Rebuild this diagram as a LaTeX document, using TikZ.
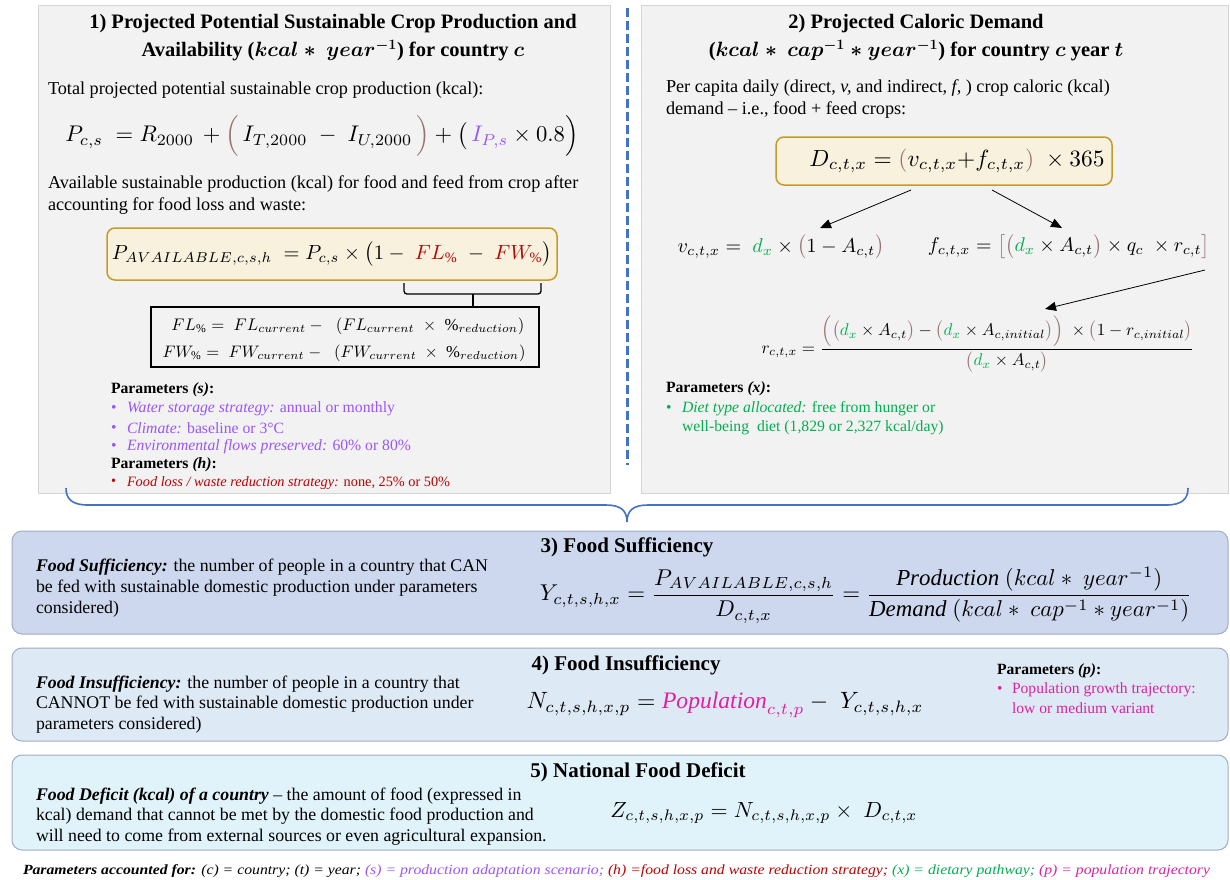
\documentclass[tikz,border=0pt]{standalone}
\usepackage{amsmath}
\usepackage{graphicx}
\usepackage{fontspec}
\setmainfont{Liberation Serif}
\usetikzlibrary{arrows.meta}
\definecolor{pgray}{RGB}{242,242,242}
\definecolor{pborder}{RGB}{212,212,212}
\definecolor{myblue}{RGB}{68,114,196}
\definecolor{mypurple}{RGB}{153,85,255}
\definecolor{myred}{RGB}{192,0,0}
\definecolor{mygreen}{RGB}{0,176,80}
\definecolor{mypink}{RGB}{224,32,160}
\definecolor{mybrown}{RGB}{150,115,115}
\definecolor{yfill}{RGB}{248,241,222}
\definecolor{ydraw}{RGB}{196,156,40}
\definecolor{pthreefill}{RGB}{205,216,238}
\definecolor{pfourfill}{RGB}{222,233,246}
\definecolor{pfivefill}{RGB}{224,243,251}
\definecolor{pbd}{RGB}{160,172,192}
\newcommand{\bul}[1]{\makebox[#1][l]{\raisebox{0.5pt}{\textbullet}}}
\begin{document}
\begin{tikzpicture}[x=1pt,y=-1pt,
  every node/.style={inner sep=0pt,outer sep=0pt},
  graypanel/.style={draw=pborder,fill=pgray,line width=0.8pt,anchor=north west},
  bluepanel/.style={draw=pbd,line width=1pt,rounded corners=10pt,anchor=north west,minimum width=1216},
  ybox/.style={draw=ydraw,fill=yfill,rounded corners=8pt,line width=1.5pt},
  ttl/.style={font=\fontsize{20.5}{28}\selectfont\bfseries,align=center},
  ttlb/.style={font=\fontsize{21}{24}\selectfont\bfseries},
  body/.style={font=\fontsize{18.2}{22}\selectfont,anchor=west},
  bodyb/.style={font=\fontsize{17.8}{21}\selectfont,anchor=west},
  param/.style={font=\fontsize{15.7}{19}\selectfont,anchor=west},
  params/.style={font=\fontsize{14.3}{17}\selectfont,anchor=west},
  paramp/.style={font=\fontsize{15.6}{18}\selectfont,anchor=west},
  arr/.style={line width=0.8pt,-{Triangle[length=11pt,width=9pt]}}
]
\useasboundingbox (0,0) rectangle (1230,879);
\fill[white] (0,0) rectangle (1230,879);

% ---------- top panels ----------
\node[graypanel,minimum width=572,minimum height=488] (p1) at (38,5) {};
\node[graypanel,minimum width=587,minimum height=488] (p2) at (641,5) {};

\coordinate (dtop) at (627,8);
\coordinate (dbot) at (627,465);
\draw[myblue,line width=3pt,dash pattern=on 9pt off 4pt] (dtop) -- (dbot);

% blue brace
\coordinate (bl) at (66,488);
\coordinate (bm) at (627,522);
\coordinate (br) at (1188,488);
\draw[myblue,line width=1.6pt] (bl) .. controls (66,499) and (72,505) .. (88,505) -- (606,505)
  .. controls (620,505) and (627,510) .. (bm) .. controls (627,510) and (634,505) .. (648,505)
  -- (1166,505) .. controls (1182,505) and (1188,499) .. (br);

% ---------- panel 1 ----------
\node[ttl] (t1) at (333,38) {1) Projected Potential Sustainable Crop Production and\\Availability ({\boldmath$kcal\ast\ year^{-1}$}) for country {\boldmath$c$}};
\node[body] (tx1) at (48,90) {Total projected potential sustainable crop production (kcal):};
\node (eqP) at (322,136) {\resizebox{513pt}{!}{$P_{c,s}\;=R_{2000}\,+\smash{\textcolor{mybrown}{\Bigl(}}\,I_{T,2000}\;-\;I_{U,2000}\,\smash{\textcolor{mybrown}{\Bigr)}}+\bigl(\,\textcolor{mypurple}{I_{P,s}}\times 0.8\smash{\Bigr)}$}};
\node[body] (tx2) at (48,184) {Available sustainable production (kcal) for food and feed from crop after};
\node[body] (tx3) at (48,206) {accounting for food loss and waste:};
\node[ybox,minimum width=450,minimum height=52] (yb1) at (332,254) {};
\node (eqA) at (332,254) {\resizebox{440pt}{!}{$P_{AVAILABLE,c,s,h}\;=P_{c,s}\times\bigl(1-\;\textcolor{myred}{FL_{\%}}\;-\;\textcolor{myred}{FW_{\%}}\bigr)$}};
\coordinate (brl) at (404,283);
\coordinate (brr) at (541,283);
\coordinate (brm) at (473,306);
\draw[line width=1.3pt,rounded corners=3pt] (brl) -- (404,294) -- (541,294) -- (brr);
\draw[line width=1.3pt] (473,294) -- (brm);
\node[draw,line width=1.3pt,minimum width=388,minimum height=60,anchor=north west] (fb) at (151,307) {};
\node (eqFL) at (348,326) {\resizebox{353pt}{!}{$FL_{\%}=\;FL_{current}-\;\;(FL_{current}\;\times\;\%_{reduction})$}};
\node (eqFW) at (344,353) {\resizebox{363pt}{!}{$FW_{\%}=\;FW_{current}-\;\;(FW_{current}\;\times\;\%_{reduction})$}};

\node[param] (ps) at (111,390) {\textbf{Parameters \textit{(s)}:}};
\node[param,text=mypurple] (ps1) at (111,409) {\bul{16pt}\textit{Water storage strategy:} annual or monthly};
\node[param,text=mypurple] (ps2) at (111,428) {\bul{16pt}\textit{Climate:} baseline or 3°C};
\node[param,text=mypurple] (ps3) at (111,447) {\bul{16pt}\textit{Environmental flows preserved:} 60\% or 80\%};
\node[param] (ph) at (111,465) {\textbf{Parameters \textit{(h)}:}};
\node[params,text=myred] (ph1) at (111,483) {\bul{16pt}\textit{Food loss / waste reduction strategy:} none, 25\% or 50\%};

% ---------- panel 2 ----------
\node[ttl] (t2) at (916,38) {2) Projected Caloric Demand\\({\boldmath$kcal\ast\ cap^{-1}\ast year^{-1}$}) for country {\boldmath$c$} year {\boldmath$t$}};
\node[body] (tx4) at (666,88) {Per capita daily (direct, \textit{v,} and indirect, \textit{f,} ) crop caloric (kcal)};
\node[body] (tx5) at (666,110) {demand – i.e., food + feed crops:};
\node[ybox,minimum width=336,minimum height=48] (yb2) at (944,161) {};
\node (eqD) at (957,161) {\resizebox{295pt}{!}{$D_{c,t,x}=\textcolor{mybrown}{(}v_{c,t,x}{+}f_{c,t,x}\textcolor{mybrown}{)}\;\times 365$}};
\node (eqv) at (781,247) {\resizebox{207pt}{!}{$v_{c,t,x}=\;\textcolor{mygreen}{d_x}\times\textcolor{mybrown}{\bigl(}1-A_{c,t}\textcolor{mybrown}{\bigr)}$}};
\node (eqf) at (1069,247) {\resizebox{282pt}{!}{$f_{c,t,x}=\textcolor{mybrown}{\bigl[}\textcolor{mybrown}{\bigl(}\textcolor{mygreen}{d_x}\times A_{c,t}\textcolor{mybrown}{\bigr)}\times q_c\;\times r_{c,t}\textcolor{mybrown}{\bigr]}$}};
\node (eqr) at (978,344) {\resizebox{433pt}{!}{$r_{c,t,x}=\dfrac{\textcolor{mybrown}{\Bigl(}\textcolor{mybrown}{\bigl(}\textcolor{mygreen}{d_x}\times A_{c,t}\textcolor{mybrown}{\bigr)}-\textcolor{mybrown}{\bigl(}\textcolor{mygreen}{d_x}\times A_{c,initial}\textcolor{mybrown}{\bigr)}\textcolor{mybrown}{\Bigr)}\;\times\textcolor{mybrown}{\bigl(}1-r_{c,initial}\textcolor{mybrown}{\bigr)}}{\textcolor{mybrown}{\bigl(}\textcolor{mygreen}{d_x}\times A_{c,t}\textcolor{mybrown}{\bigr)}}$}};
\coordinate (a1s) at (911,190); \coordinate (a1e) at (820,228);
\coordinate (a2s) at (992,190); \coordinate (a2e) at (1062,228);
\coordinate (a3s) at (1205,270); \coordinate (a3e) at (1045,309);
\draw[arr] (a1s) -- (a1e);
\draw[arr] (a2s) -- (a2e);
\draw[arr] (a3s) -- (a3e);
\node[param] (px) at (666,389) {\textbf{Parameters \textit{(x)}:}};
\node[param,text=mygreen] (px1) at (666,409) {\bul{16pt}\textit{Diet type allocated:} free from hunger or};
\node[param,text=mygreen] (px2) at (682,428) {well-being\ \ diet (1,829 or 2,327 kcal/day)};

% ---------- panel 3 ----------
\node[bluepanel,fill=pthreefill,minimum height=103] (p3) at (12,531) {};
\node[ttlb] (t3) at (627,547) {3) Food Sufficiency};
\node[bodyb] (l31) at (36,567) {\textbf{\textit{Food Sufficiency:}} the number of people in a country that CAN};
\node[bodyb] (l32) at (36,588) {be fed with sustainable domestic production under parameters};
\node[bodyb] (l33) at (36,609) {considered)};
\node (eqY) at (866,595) {\resizebox{652pt}{!}{$Y_{c,t,s,h,x}=\dfrac{P_{AVAILABLE,c,s,h}}{D_{c,t,x}}=\dfrac{\mathit{Production}\ (kcal\ast\ year^{-1})}{\mathit{Demand}\ (kcal\ast\ cap^{-1}\ast year^{-1})}$}};

% ---------- panel 4 ----------
\node[bluepanel,fill=pfourfill,minimum height=93] (p4) at (12,648) {};
\node[ttlb] (t4) at (626,665) {4) Food Insufficiency};
\node[bodyb] (l41) at (36,684) {\textbf{\textit{Food Insufficiency:}} the number of people in a country that};
\node[bodyb] (l42) at (36,704) {CANNOT be fed with sustainable domestic production under};
\node[bodyb] (l43) at (36,725) {parameters considered)};
\node (eqN) at (725,705) {\resizebox{397pt}{!}{$N_{c,t,s,h,x,p}=\textcolor{mypink}{\mathit{Population}_{c,t,p}}-\;Y_{c,t,s,h,x}$}};
\node[paramp] (pp) at (997,671) {\textbf{Parameters \textit{(p)}:}};
\node[paramp,text=mypink] (pp1) at (997,690) {\bul{15pt}Population growth trajectory:};
\node[paramp,text=mypink] (pp2) at (1012,708) {low or medium variant};

% ---------- panel 5 ----------
\node[bluepanel,fill=pfivefill,minimum height=95] (p5) at (12,755) {};
\node[ttlb] (t5) at (638,772) {5) National Food Deficit};
\node[bodyb] (l51) at (36,796) {\textbf{\textit{Food Deficit (kcal) of a country}} – the amount of food (expressed in};
\node[bodyb] (l52) at (36,816) {kcal) demand that cannot be met by the domestic food production and};
\node[bodyb] (l53) at (36,837) {will need to come from external sources or even agricultural expansion.};
\node (eqZ) at (764,813) {\resizebox{307pt}{!}{$Z_{c,t,s,h,x,p}=N_{c,t,s,h,x,p}\times\;D_{c,t,x}$}};

% ---------- footer ----------
\node[anchor=west] (foot) at (23,871) {\resizebox{1187pt}{\height}{\fontsize{14}{16}\selectfont\itshape\textbf{Parameters accounted for:} (c) = country; (t) = year; \textcolor{mypurple}{(s) = production adaptation scenario;} \textcolor{myred}{(h) =food loss and waste reduction strategy;} \textcolor{mygreen}{(x) = dietary pathway;} \textcolor{mypink}{(p) = population trajectory}}};
\end{tikzpicture}
\end{document}
